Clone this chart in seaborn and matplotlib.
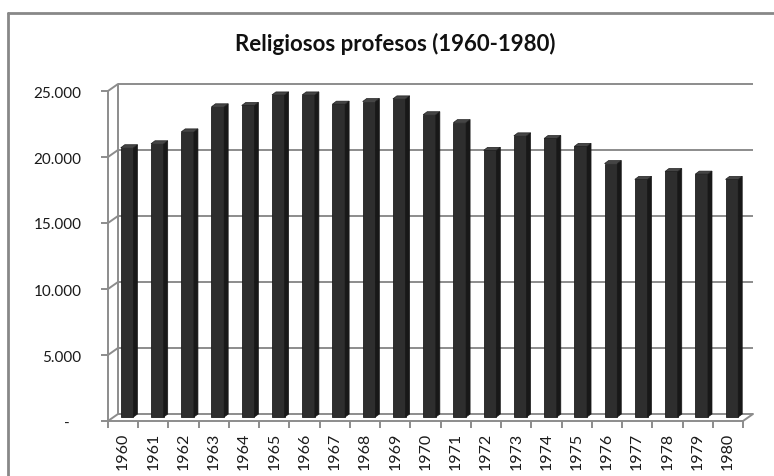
import numpy as np
import seaborn as sns
import matplotlib.pyplot as plt
from matplotlib.lines import Line2D
from matplotlib.patches import Polygon
from matplotlib.transforms import Affine2D, IdentityTransform

anos = [str(a) for a in range(1960, 1981)]
religiosos = [20400, 20700, 21600, 23500, 23600, 24400, 24400, 23700, 23900, 24100,
              22900, 22300, 20200, 21300, 21100, 20500, 19200, 18000, 18600, 18400, 18000]
marcas_y = [0, 5000, 10000, 15000, 20000, 25000]
rotulos_y = ['-   ', '5.000', '10.000', '15.000', '20.000', '25.000']

sns.set_style('white')
plt.rcParams['font.family'] = ['Lato', 'DejaVu Sans']

fig = plt.figure(figsize=(7.74, 4.77), dpi=100)
ax = fig.add_axes([108 / 774, 55 / 477, 635 / 774, 330 / 477])
ax.patch.set_alpha(0)

cinza = '#8c8c8c'
fundo = Affine2D().translate(10, 7)     # parede do fundo (pixels)
barra = Affine2D().translate(4, 4)      # profundidade das barras

sns.barplot(x=anos, y=religiosos, color='#2e2e2e', width=0.42, saturation=1,
            edgecolor='#1e1e1e', linewidth=0.6, ax=ax, zorder=3)
ax.set_xlim(-0.5, len(anos) - 0.5)
ax.set_ylim(0, 25000)

# grade na parede do fundo
ax.hlines(marcas_y, -0.5, len(anos) - 0.5, colors=cinza, lw=1.4,
          transform=ax.transData + fundo, clip_on=False, zorder=1)
ax.vlines(-0.5, 0, 25000, colors=cinza, lw=1.4,
          transform=ax.transData + fundo, clip_on=False, zorder=1)

fig.canvas.draw()

def liga(x, y):
    p0 = ax.transData.transform((x, y))
    p1 = fundo.transform(p0)
    fig.add_artist(Line2D([p0[0], p1[0]], [p0[1], p1[1]], color=cinza, lw=1.4,
                          transform=IdentityTransform(), zorder=1))

for t in marcas_y:
    liga(-0.5, t)
liga(len(anos) - 0.5, 0)

# faces laterais e superiores das barras
for p in ax.patches:
    p.set_transform(ax.transData + barra)
    x, w, h = p.get_x(), p.get_width(), p.get_height()
    tr = ax.transData + barra
    bl, br = tr.transform((x, 0)), tr.transform((x + w, 0))
    tl, trr = tr.transform((x, h)), tr.transform((x + w, h))
    d = np.array([4, 3])
    lado = Polygon([br, trr, trr + d, br + d], closed=True, facecolor='#181818',
                   edgecolor='#181818', lw=0.5, transform=IdentityTransform(), zorder=2)
    topo = Polygon([tl, trr, trr + d, tl + d], closed=True, facecolor='#454545',
                   edgecolor='#202020', lw=0.5, transform=IdentityTransform(), zorder=4)
    fig.add_artist(lado)
    fig.add_artist(topo)

# eixos
for s in ['top', 'right']:
    ax.spines[s].set_visible(False)
for s in ['left', 'bottom']:
    ax.spines[s].set_color(cinza)
    ax.spines[s].set_linewidth(1.4)

ax.set_yticks(marcas_y)
ax.set_yticklabels(rotulos_y, fontsize=11, color='#1a1a1a')
ax.tick_params(axis='y', direction='out', length=5, width=1.4, color=cinza, pad=14, left=True)
ax.set_xticks(range(len(anos)))
ax.set_xticklabels(anos, rotation=90, fontsize=11.5, color='#1a1a1a')
ax.set_xticks(np.arange(-0.5, len(anos), 1), minor=True)
ax.tick_params(axis='x', which='major', length=0, pad=8)
ax.tick_params(axis='x', which='minor', direction='out', length=5, width=1.4,
               color=cinza, bottom=True)
ax.set_xlabel('')
ax.set_ylabel('')

fig.text(395 / 774, 1 - 44 / 477, 'Religiosos profesos (1960-1980)', ha='center',
         va='center', fontsize=16, fontweight='bold', color='#111111')

# moldura
fig.add_artist(Line2D([8 / 774, 8 / 774], [0, 1 - 14 / 477], color='#888888', lw=2,
                      transform=fig.transFigure))
fig.add_artist(Line2D([8 / 774, 1], [1 - 14 / 477, 1 - 14 / 477], color='#888888', lw=2,
                      transform=fig.transFigure))

fig.savefig('out.png', dpi=100, facecolor='white')
